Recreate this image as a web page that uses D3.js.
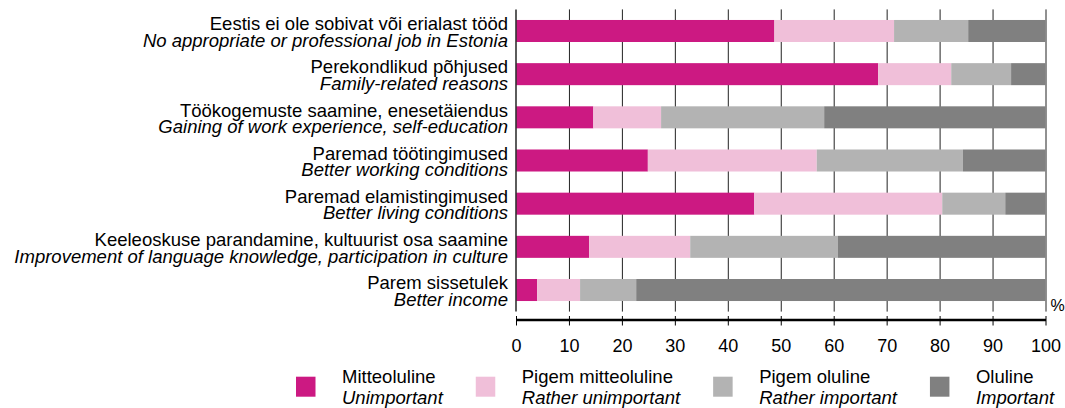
<!DOCTYPE html>
<html>
<head>
<meta charset="utf-8">
<script src="https://cdn.jsdelivr.net/npm/d3@7"></script>
<style>
  body { margin: 0; background: #fff; }
  svg { display: block; font-family: "Liberation Sans", Arial, sans-serif; }
  .axis text { font-size: 18px; fill: #000; }
</style>
</head>
<body>
<svg width="1065" height="408"></svg>
<script>
// categories (Estonian / English)
var labelsEt = [
    "Eestis ei ole sobivat või erialast tööd",
    "Perekondlikud põhjused",
    "Töökogemuste saamine, enesetäiendus",
    "Paremad töötingimused",
    "Paremad elamistingimused",
    "Keeleoskuse parandamine, kultuurist osa saamine",
    "Parem sissetulek"
];
var labelsEn = [
    "No appropriate or professional job in Estonia",
    "Family-related reasons",
    "Gaining of work experience, self-education",
    "Better working conditions",
    "Better living conditions",
    "Improvement of language knowledge, participation in culture",
    "Better income"
];

// series values, %
var unimportant       = [48.8, 68.4, 14.6, 24.9, 45.0, 13.8,  4.0];
var ratherUnimportant = [22.6, 13.8, 12.8, 31.9, 35.5, 19.1,  8.1];
var ratherImportant   = [14.0, 11.3, 30.8, 27.6, 11.9, 27.9, 10.6];
var important         = [14.6,  6.5, 41.8, 15.6,  7.6, 39.2, 77.3];

var seriesEt = ["Mitteoluline", "Pigem mitteoluline", "Pigem oluline", "Oluline"];
var seriesEn = ["Unimportant", "Rather unimportant", "Rather important", "Important"];
var colors = ["#cc1982", "#f0bfd9", "#b3b3b3", "#808080"];

var xTicks = [0, 10, 20, 30, 40, 50, 60, 70, 80, 90, 100];

// build rows for the stack
var keys = ["s0", "s1", "s2", "s3"];
var rows = labelsEt.map(function (d, i) {
    return { cat: d, en: labelsEn[i], s0: unimportant[i], s1: ratherUnimportant[i], s2: ratherImportant[i], s3: important[i] };
});

var svg = d3.select("svg");

var plotTop = 9.4, plotBottom = 311.6;
var labelSize = 18.5;

var xScale = d3.scaleLinear()
    .domain([0, 100])
    .range([516, 1045.5]);

var yScale = d3.scaleBand()
    .domain(labelsEt)
    .range([plotTop, plotBottom])
    .paddingInner(0.49)
    .paddingOuter(0.245);

//vertical gridlines
svg.append("g")
    .attr("class", "grid")
    .attr("transform", "translate(0," + plotTop + ")")
    .call(d3.axisTop(xScale).tickValues(xTicks.slice(1)).tickSize(-(plotBottom - plotTop)).tickFormat(""))
    .call(function (g) { g.select(".domain").remove(); })
    .selectAll("line")
    .attr("stroke", "#222")
    .attr("stroke-width", 1);

//stacked bars
var stacked = d3.stack().keys(keys)(rows);

svg.append("g")
    .selectAll("g")
    .data(stacked)
    .enter().append("g")
    .attr("fill", function (d, i) { return colors[i]; })
    .selectAll("rect")
    .data(function (d) { return d; })
    .enter().append("rect")
    .attr("x", function (d) { return xScale(d[0]); })
    .attr("y", function (d) { return yScale(d.data.cat); })
    .attr("width", function (d) { return xScale(d[1]) - xScale(d[0]); })
    .attr("height", yScale.bandwidth());

//left axis line
svg.append("line")
    .attr("x1", xScale(0)).attr("x2", xScale(0))
    .attr("y1", plotTop).attr("y2", plotBottom)
    .attr("stroke", "#333")
    .attr("stroke-width", 1.6);

//category labels, two lines
var lab = svg.append("g")
    .selectAll("text")
    .data(rows)
    .enter().append("text")
    .attr("text-anchor", "end")
    .attr("font-size", labelSize)
    .attr("fill", "#000");

lab.append("tspan")
    .attr("x", 508)
    .attr("y", function (d) { return yScale(d.cat) + yScale.bandwidth() / 2 - 0.8; })
    .text(function (d) { return d.cat; });

lab.append("tspan")
    .attr("x", 508)
    .attr("y", function (d) { return yScale(d.cat) + yScale.bandwidth() / 2 + 15.8; })
    .attr("font-style", "italic")
    .text(function (d) { return d.en; });

//x axis below the plot
var xAxis = svg.append("g")
    .attr("class", "axis")
    .attr("transform", "translate(0,319.5)")
    .call(d3.axisBottom(xScale).tickValues(xTicks).tickSizeInner(6).tickSizeOuter(0));

xAxis.select(".domain")
    .attr("stroke", "#000")
    .attr("stroke-width", 2.5);

xAxis.selectAll(".tick line")
    .attr("y1", -3.5)
    .attr("stroke", "#000")
    .attr("stroke-width", 1);

xAxis.selectAll(".tick text")
    .attr("y", 32.3)
    .attr("dy", 0)
    .attr("font-family", null)
    .attr("font-size", null);

svg.append("text")
    .attr("x", 1050.5)
    .attr("y", 310.7)
    .attr("font-size", 16)
    .text("%");

//legend
var legend = svg.append("g");
var lx = 296;
seriesEt.forEach(function (name, i) {
    var item = legend.append("g").attr("transform", "translate(" + lx + ",0)");
    item.append("rect")
        .attr("x", 0).attr("y", 376.7)
        .attr("width", 19.5).attr("height", 20)
        .attr("fill", colors[i]);
    var t1 = item.append("text")
        .attr("x", 46).attr("y", 382.7)
        .attr("font-size", labelSize)
        .text(name);
    var t2 = item.append("text")
        .attr("x", 46).attr("y", 404.3)
        .attr("font-size", labelSize)
        .attr("font-style", "italic")
        .text(seriesEn[i]);
    var w = Math.max(t1.node().getComputedTextLength(), t2.node().getComputedTextLength());
    lx += 46 + w + 33;
});
</script>
</body>
</html>
